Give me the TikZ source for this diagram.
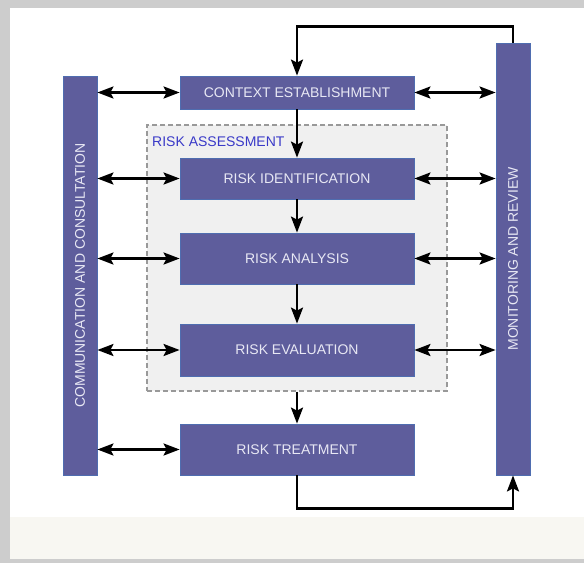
\documentclass[tikz,border=0pt]{standalone}
\usepackage{fontspec}
\setmainfont{Liberation Sans}
\usetikzlibrary{arrows.meta}
\definecolor{boxfill}{HTML}{5E5D9C}
\definecolor{boxedge}{HTML}{4F6DB0}
\definecolor{boxtext}{HTML}{E8E8F4}
\definecolor{assessblue}{HTML}{3A3AC8}
\definecolor{framegrey}{HTML}{CDCDCD}
\definecolor{beige}{HTML}{F8F7F2}
\begin{document}
\begin{tikzpicture}[x=1pt,y=-1pt,every node/.style={inner sep=0pt,font=\fontsize{14}{16}\selectfont},
    stage/.style={draw=boxedge,line width=0.8pt,fill=boxfill,text=boxtext,minimum width=234pt},
    column/.style={draw=boxedge,line width=0.8pt,fill=boxfill,text=boxtext,minimum height=34pt,rotate=90},
    link/.style={line width=2.5pt,{Stealth[length=16pt,width=12pt,inset=3pt]}-{Stealth[length=16pt,width=12pt,inset=3pt]}},
    flow/.style={line width=2.5pt,-{Stealth[length=16pt,width=12pt,inset=3pt]}}]
    \useasboundingbox (0,0) rectangle (584,563);
    \fill[framegrey] (0,0) rectangle (584,563);
    \fill[white] (10,8) rectangle (584,559);
    \fill[beige] (10,517) rectangle (584,559);
    \node[draw=gray!80,dash pattern=on 5pt off 3pt,line width=1.2pt,fill=gray!12,minimum width=300pt,minimum height=266pt] (assess) at (297,258) {};
    \node[anchor=west,text=assessblue] (assesslbl) at (152,142) {RISK ASSESSMENT};
    \node[stage,minimum height=33pt] (ctx) at (297,92.5) {CONTEXT ESTABLISHMENT};
    \node[stage,minimum height=41pt] (ident) at (297,178.5) {RISK IDENTIFICATION};
    \node[stage,minimum height=51pt] (anal) at (297,258.5) {RISK ANALYSIS};
    \node[stage,minimum height=52pt] (eval) at (297,350) {RISK EVALUATION};
    \node[stage,minimum height=51pt] (treat) at (297,449.5) {RISK TREATMENT};
    \node[column,minimum width=399pt] (comm) at (80,275.5) {COMMUNICATION AND CONSULTATION};
    \node[column,minimum width=432pt] (mon) at (513,259) {MONITORING AND REVIEW};
    \foreach \s in {ctx,ident,anal,eval,treat}
        \draw[link] (comm.south |- \s.west) -- (\s.west);
    \foreach \s in {ctx,ident,anal,eval}
        \draw[link] (\s.east) -- (mon.north |- \s.east);
    \draw[flow] (ctx) -- (ident);
    \draw[flow] (ident) -- (anal);
    \draw[flow] (anal) -- (eval);
    \draw[flow] (assess.south) -- (treat.north);
    \draw[flow] (mon.east) -- ++(0,-16) -| (ctx.north);
    \draw[flow] (treat.south) -- ++(0,33) -| (mon.west);
\end{tikzpicture}
\end{document}
